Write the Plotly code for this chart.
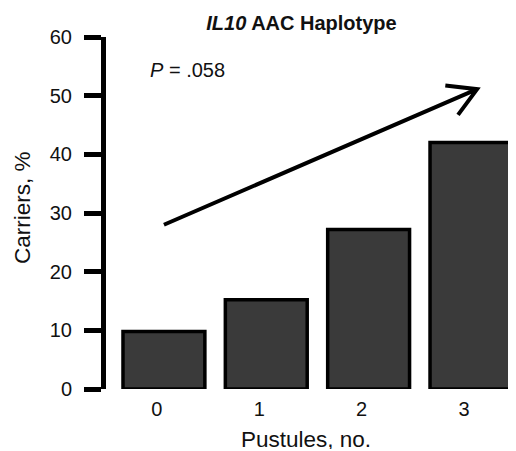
import math
import plotly.graph_objects as go

# ---- data ----
categories = [0, 1, 2, 3]
tick_labels = ["0", "1", "2", "3"]
carriers_pct = [9.8, 15.2, 27.2, 42.0]
y_ticks = [0, 10, 20, 30, 40, 50, 60]
title_text = "<b><i>IL10</i> AAC Haplotype</b>"
p_text = "<i>P</i> = .058"
x_title = "Pustules, no."
y_title = "Carriers, %"

# trend arrow (data coordinates)
arrow_start = (0.0, 28.0)
arrow_end = (3.06, 51.1)

# page body has an 8px margin: lay out in window pixels, then offset
OFF = 8
WIN_W, WIN_H = 516, 451
W, H = WIN_W - OFF, WIN_H - OFF
PLOT_L, PLOT_R, PLOT_T, PLOT_B = 106, 516, 37, 389  # window pixels
ML, MR, MT, MB = PLOT_L - OFF, WIN_W - PLOT_R, PLOT_T - OFF, WIN_H - PLOT_B
XR = [-0.566, 3.44]
YR = [0, 60]
PW, PH = PLOT_R - PLOT_L, PLOT_B - PLOT_T
px_x = PW / (XR[1] - XR[0])
px_y = PH / (YR[1] - YR[0])

FONT = "Liberation Sans, Arial, sans-serif"
INK = "#111111"

fig = go.Figure()
fig.add_trace(go.Bar(
    x=categories, y=carriers_pct, width=0.8,
    marker=dict(color="#3a3a3a", line=dict(color="#000000", width=3.5)),
    showlegend=False,
))

# arrow as path: shaft + open chevron head
sx, sy = arrow_start
ex, ey = arrow_end
dxp = (ex - sx) * px_x
dyp = -(ey - sy) * px_y
ang = math.atan2(dyp, dxp)
arm = 32
pts = []
for da in (math.radians(150), math.radians(-150)):
    a = ang + da
    pts.append((ex + arm * math.cos(a) / px_x, ey - arm * math.sin(a) / px_y))
path = (f"M {sx},{sy} L {ex},{ey} "
        f"M {pts[0][0]},{pts[0][1]} L {ex},{ey} L {pts[1][0]},{pts[1][1]}")
fig.add_shape(type="path", path=path, xref="x", yref="y",
              line=dict(color="#000000", width=4))

fig.add_annotation(x=-0.156, y=54.4, xref="x", yref="y", text=p_text,
                   showarrow=False, xanchor="left", yanchor="middle",
                   font=dict(family=FONT, size=20, color=INK))

# axis titles (positions in window pixels -> plot paper coords)
fig.add_annotation(x=(305.5 - PLOT_L) / PW, y=(PLOT_B - 439) / PH, xref="paper", yref="paper",
                   text=x_title, showarrow=False, xanchor="center", yanchor="middle",
                   height=20, valign="middle",
                   font=dict(family=FONT, size=22.5, color=INK))
fig.add_annotation(x=(22 - PLOT_L) / PW, y=(PLOT_B - 208) / PH, xref="paper", yref="paper",
                   text=y_title, textangle=-90, showarrow=False,
                   xanchor="center", yanchor="middle",
                   font=dict(family=FONT, size=22.5, color=INK))

fig.update_layout(
    width=W, height=H,
    margin=dict(l=ML, r=MR, t=MT, b=MB, autoexpand=False),
    paper_bgcolor="white", plot_bgcolor="white",
    font=dict(family=FONT, size=20, color=INK),
    title=dict(text=title_text, x=(301.5 - OFF) / W, xanchor="center",
               y=1 - (23 - OFF) / H, yanchor="middle",
               font=dict(family=FONT, size=20, color=INK)),
)
fig.update_xaxes(
    range=XR, tickvals=categories, ticktext=tick_labels, automargin=False,
    showgrid=False, zeroline=False, showline=False, ticks="",
    ticklabelstandoff=6, ticklabelshift=-7,
    tickfont=dict(family=FONT, size=20, color=INK),
)
fig.update_yaxes(
    range=YR, tickvals=y_ticks, automargin=False,
    showgrid=False, zeroline=False, showline=True, linecolor="#000000",
    linewidth=5, ticks="outside", ticklen=17, tickwidth=5, tickcolor="#000000",
    ticklabelstandoff=8,
    tickfont=dict(family=FONT, size=20, color=INK),
)

fig.write_html("out.html")
